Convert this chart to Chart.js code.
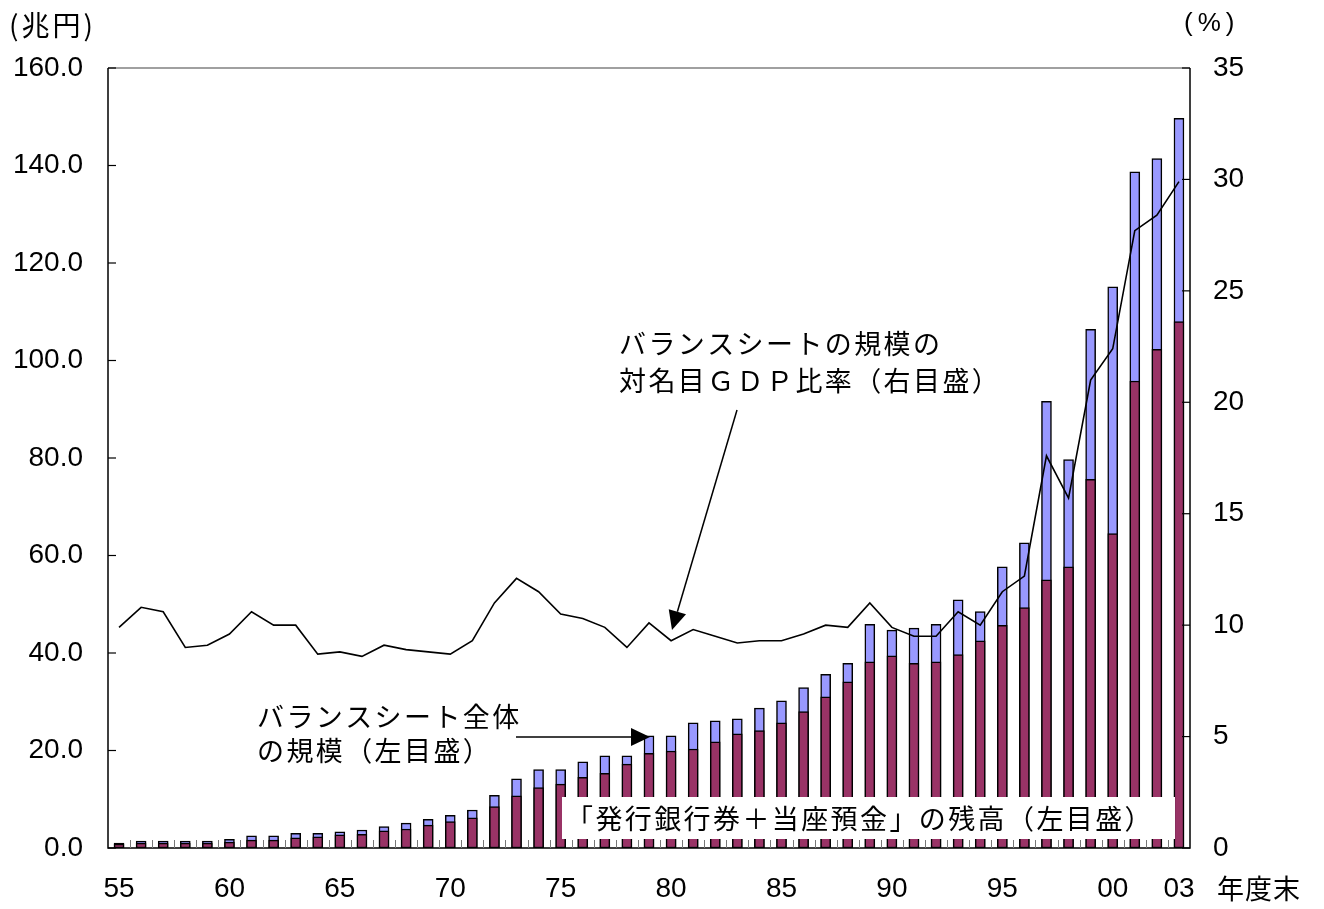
<!DOCTYPE html>
<html lang="ja">
<head>
<meta charset="utf-8">
<title>日本銀行のバランスシート規模</title>
<script src="https://cdn.jsdelivr.net/npm/chart.js@4.4.1/dist/chart.umd.min.js"></script>
<style>
  html, body { margin: 0; padding: 0; background: #fff; }
  canvas { display: block; }
</style>
</head>
<body>
<canvas id="bs-chart" width="1324" height="909"></canvas>
<script>
// 年度末 1955 - 2003
const years = ['55','56','57','58','59','60','61','62','63','64','65','66','67','68','69',
    '70','71','72','73','74','75','76','77','78','79','80','81','82','83','84','85','86','87',
    '88','89','90','91','92','93','94','95','96','97','98','99','00','01','02','03'];
const shownYears = ['55','60','65','70','75','80','85','90','95','00','03'];

// バランスシート全体の規模（兆円）
const totalBalance = [1.0, 1.4, 1.4, 1.4, 1.4, 1.8, 2.5, 2.5, 3.0, 3.0, 3.3, 3.7, 4.4, 5.1, 5.9,
    6.7, 7.8, 10.8, 14.2, 16.1, 16.1, 17.7, 18.9, 18.9, 23.0, 23.0, 25.7, 26.1, 26.5, 28.7, 30.2,
    32.9, 35.6, 37.9, 45.9, 44.7, 45.1, 45.9, 50.9, 48.5, 57.7, 62.6, 91.6, 79.7, 106.4, 115.1,
    138.7, 141.4, 149.7];

// 「発行銀行券＋当座預金」の残高（兆円）
const notesAndDeposits = [0.8, 1.0, 1.0, 1.0, 1.0, 1.2, 1.6, 1.6, 2.1, 2.3, 2.7, 2.8, 3.5, 3.9, 4.7,
    5.4, 6.2, 8.5, 10.7, 12.4, 13.1, 14.5, 15.3, 17.2, 19.4, 19.9, 20.3, 21.8, 23.4, 24.1, 25.7,
    28.0, 31.0, 34.1, 38.2, 39.4, 37.9, 38.2, 39.7, 42.5, 45.7, 49.3, 55.0, 57.7, 75.6, 64.5,
    95.8, 102.3, 108.0];

// バランスシートの規模の対名目GDP比率（%）
const gdpRatio = [9.9, 10.8, 10.6, 9.0, 9.1, 9.6, 10.6, 10.0, 10.0, 8.7, 8.8, 8.6, 9.1, 8.9, 8.8,
    8.7, 9.3, 11.0, 12.1, 11.5, 10.5, 10.3, 9.9, 9.0, 10.1, 9.3, 9.8, 9.5, 9.2, 9.3, 9.3,
    9.6, 10.0, 9.9, 11.0, 9.9, 9.5, 9.5, 10.6, 10.0, 11.5, 12.2, 17.6, 15.7, 21.0, 22.4,
    27.7, 28.4, 29.9];

const leftTicks = [0, 20, 40, 60, 80, 100, 120, 140, 160];
const rightTicks = [0, 5, 10, 15, 20, 25, 30, 35];

const numFont = '"Liberation Sans", Arial, sans-serif';
const jpFont = '"Noto Sans CJK JP", "Noto Sans", sans-serif';

function drawArrow(ctx, x1, y1, x2, y2) {
    const ang = Math.atan2(y2 - y1, x2 - x1);
    const len = 19, half = 9;
    const bx = x2 - len * Math.cos(ang), by = y2 - len * Math.sin(ang);
    ctx.beginPath();
    ctx.moveTo(x1, y1);
    ctx.lineTo(bx, by);
    ctx.stroke();
    ctx.beginPath();
    ctx.moveTo(x2, y2);
    ctx.lineTo(bx + half * Math.sin(ang), by - half * Math.cos(ang));
    ctx.lineTo(bx - half * Math.sin(ang), by + half * Math.cos(ang));
    ctx.closePath();
    ctx.fill();
}

function jpText(ctx, text, x, y, size, spacing) {
    ctx.font = size + 'px ' + jpFont;
    ctx.letterSpacing = spacing + 'px';
    ctx.fillText(text, x, y);
}

const decorations = {
    id: 'decorations',
    afterDatasetsDraw(chart) {
        const { ctx, chartArea: a, scales } = chart;
        ctx.save();

        // plot frame
        ctx.lineWidth = 1.5;
        ctx.strokeStyle = '#808080';
        ctx.beginPath();
        ctx.moveTo(a.left, a.top);
        ctx.lineTo(a.right, a.top);
        ctx.stroke();
        ctx.strokeStyle = '#000';
        ctx.beginPath();
        ctx.moveTo(a.left, a.top);
        ctx.lineTo(a.left, a.bottom);
        ctx.lineTo(a.right, a.bottom);
        ctx.lineTo(a.right, a.top);
        ctx.stroke();

        // inward ticks
        ctx.lineWidth = 1.2;
        leftTicks.forEach(v => {
            const y = scales.y.getPixelForValue(v);
            ctx.beginPath(); ctx.moveTo(a.left, y); ctx.lineTo(a.left + 8, y); ctx.stroke();
        });
        rightTicks.forEach(v => {
            const y = scales.y1.getPixelForValue(v);
            ctx.beginPath(); ctx.moveTo(a.right - 8, y); ctx.lineTo(a.right, y); ctx.stroke();
        });
        ctx.strokeStyle = '#777';
        ctx.lineWidth = 1;
        const w = (a.right - a.left) / years.length;
        for (let i = 1; i < years.length; i++) {
            const x = Math.round(a.left + i * w) + 0.5;
            ctx.beginPath(); ctx.moveTo(x, a.bottom); ctx.lineTo(x, a.bottom - 8); ctx.stroke();
        }

        // label box over the bars
        ctx.fillStyle = '#fff';
        ctx.fillRect(562, 797, 613, 42);

        ctx.fillStyle = '#000';
        ctx.strokeStyle = '#000';
        ctx.textBaseline = 'middle';
        ctx.textAlign = 'left';
        jpText(ctx, '「発行銀行券＋当座預金」の残高（左目盛）', 566, 819, 27, 2.4);
        jpText(ctx, 'バランスシートの規模の', 619, 344, 27, 2.4);
        jpText(ctx, '対名目ＧＤＰ比率（右目盛）', 619, 381, 27, 2.4);
        jpText(ctx, 'バランスシート全体', 257, 717, 27, 2.4);
        jpText(ctx, 'の規模（左目盛）', 257, 751, 27, 2.4);

        ctx.lineWidth = 1.5;
        drawArrow(ctx, 737, 410, 672, 630);
        drawArrow(ctx, 516, 737, 650, 737);

        // axis captions
        jpText(ctx, '(兆円)', 9, 25, 28, 3);
        ctx.font = '26px ' + numFont;
        ctx.letterSpacing = '5px';
        ctx.fillText('(%)', 1184, 24);
        jpText(ctx, '年度末', 1217, 889, 27, 1);
        ctx.restore();
    }
};

document.addEventListener('DOMContentLoaded', () => {
    const ctx = document.getElementById('bs-chart').getContext('2d');

    new Chart(ctx, {
        type: 'bar',
        data: {
            labels: years,
            datasets: [
                {
                    type: 'line',
                    label: 'バランスシートの規模の対名目GDP比率（右目盛）',
                    data: gdpRatio,
                    yAxisID: 'y1',
                    borderColor: '#000',
                    borderWidth: 1.6,
                    pointRadius: 0,
                    tension: 0,
                    order: 1
                },
                {
                    label: '「発行銀行券＋当座預金」の残高（左目盛）',
                    data: notesAndDeposits,
                    yAxisID: 'y',
                    backgroundColor: '#993366',
                    borderColor: '#000',
                    borderWidth: 1.5,
                    borderSkipped: false,
                    barThickness: 10,
                    order: 2
                },
                {
                    label: 'バランスシート全体の規模（左目盛）',
                    data: totalBalance,
                    yAxisID: 'y',
                    backgroundColor: '#9999ff',
                    borderColor: '#000',
                    borderWidth: 1.5,
                    borderSkipped: false,
                    barThickness: 10,
                    order: 3
                }
            ]
        },
        options: {
            responsive: false,
            animation: false,
            layout: { padding: { top: 68, left: 0, right: 0, bottom: 0 } },
            plugins: {
                legend: { display: false },
                tooltip: { enabled: false }
            },
            scales: {
                x: {
                    stacked: true,
                    grid: { display: false, drawTicks: false },
                    border: { display: false },
                    ticks: {
                        autoSkip: false,
                        maxRotation: 0,
                        padding: 24,
                        color: '#000',
                        font: { family: numFont, size: 28 },
                        callback: function(value) {
                            const label = this.getLabelForValue(value);
                            return shownYears.includes(label) ? label : '';
                        }
                    },
                    afterFit: scale => { scale.height = 61; }
                },
                y: {
                    position: 'left',
                    stacked: false,
                    min: leftTicks[0],
                    max: leftTicks[leftTicks.length - 1],
                    grid: { display: false, drawTicks: false },
                    border: { display: false },
                    ticks: {
                        stepSize: leftTicks[1] - leftTicks[0],
                        padding: 25,
                        color: '#000',
                        font: { family: numFont, size: 28 },
                        callback: value => value.toFixed(1)
                    },
                    afterFit: scale => { scale.width = 108; }
                },
                y1: {
                    position: 'right',
                    min: rightTicks[0],
                    max: rightTicks[rightTicks.length - 1],
                    grid: { display: false, drawTicks: false },
                    border: { display: false },
                    ticks: {
                        stepSize: rightTicks[1] - rightTicks[0],
                        padding: 23,
                        color: '#000',
                        font: { family: numFont, size: 28 }
                    },
                    afterFit: scale => { scale.width = 134; }
                }
            }
        },
        plugins: [decorations]
    });
});
</script>
</body>
</html>
